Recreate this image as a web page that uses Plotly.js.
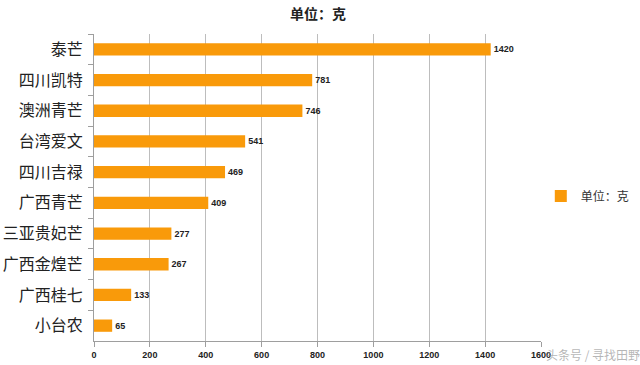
<!DOCTYPE html>
<html>
<head>
<meta charset="utf-8">
<script src="https://cdn.plot.ly/plotly-3.0.1.min.js"></script>
<style>html,body{margin:0;padding:0;background:#fff;}#chart{width:640px;height:365px;}</style>
</head>
<body>
<div id="chart"></div>
<script>
var categories = ["泰芒","四川凯特","澳洲青芒","台湾爱文","四川吉禄","广西青芒","三亚贵妃芒","广西金煌芒","广西桂七","小台农"];
var values = [1420,781,746,541,469,409,277,267,133,65];
var xTicks = [0,200,400,600,800,1000,1200,1400,1600];
var seriesName = "单位：克";

var cjk = '"Noto Sans CJK SC", "Microsoft YaHei", sans-serif';
var trace = {
  type: 'bar',
  orientation: 'h',
  x: values,
  y: categories,
  name: seriesName,
  marker: {color: '#F99A0A'},
  text: values.map(String),
  textposition: 'outside',
  cliponaxis: false,
  textfont: {family: 'Liberation Sans, Arial, sans-serif', size: 9, color: '#222'},
  texttemplate: '<b>%{text}</b>',
  showlegend: true
};
var layout = {
  width: 640, height: 365,
  margin: {l: 94, r: 99, t: 34, b: 24, autoexpand: false},
  paper_bgcolor: '#fff', plot_bgcolor: '#fff',
  bargap: 0.6,
  title: {text: '<b>' + seriesName + '</b>', x: 0.497, xanchor: 'center', y: 0.962, yanchor: 'middle',
          font: {family: cjk, size: 14, color: '#222'}},
  xaxis: {
    range: [0, 1600], tickvals: xTicks, ticktext: xTicks.map(function(v){return '<b>'+v+'</b>';}),
    showgrid: true, gridcolor: '#BDBDBD', gridwidth: 1,
    showline: true, linecolor: '#9E9E9E', linewidth: 1,
    ticks: 'outside', ticklen: 5, tickcolor: '#9E9E9E',
    tickfont: {family: 'Liberation Sans, Arial, sans-serif', size: 9, color: '#222'},
    zeroline: false, fixedrange: true
  },
  yaxis: {
    type: 'category', autorange: 'reversed',
    showline: true, linecolor: '#9E9E9E', linewidth: 1,
    ticks: 'outside', ticklen: 5, tickcolor: '#9E9E9E', tickson: 'boundaries',
    showgrid: false,
    tickfont: {family: cjk, size: 16, color: '#222'},
    ticklabelstandoff: 7
  },
  legend: {
    xref: 'container', yref: 'container',
    x: 0.845, xanchor: 'left', y: 0.463, yanchor: 'middle',
    font: {family: cjk, size: 12, color: '#333'},
    itemwidth: 30
  },
  annotations: [{
    text: '头条号 / 寻找田野', xref: 'paper', yref: 'paper', x: 1.225, y: -0.045,
    xanchor: 'right', yanchor: 'middle', showarrow: false,
    font: {family: cjk, size: 12, color: 'rgba(150,150,150,0.7)'}
  }]
};
Plotly.newPlot('chart', [trace], layout, {displayModeBar: false, staticPlot: true});
</script>
</body>
</html>
